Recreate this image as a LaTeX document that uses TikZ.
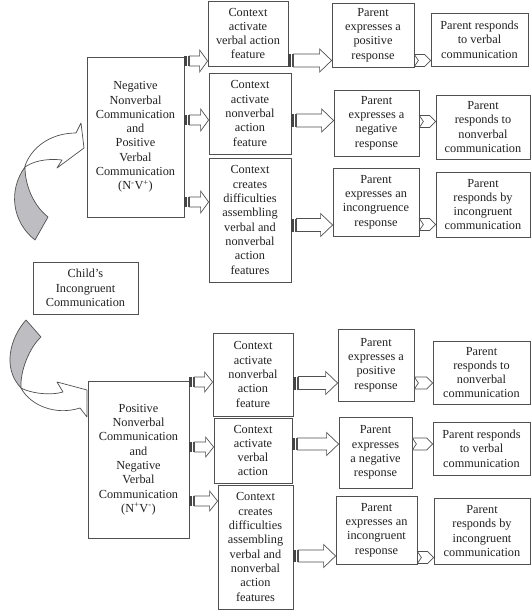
\documentclass[tikz,border=0pt]{standalone}
\usepackage{fontspec}
\setmainfont{Liberation Serif}
\usetikzlibrary{calc}
\definecolor{linec}{HTML}{505050}
\definecolor{textc}{HTML}{222222}
\definecolor{barc}{HTML}{444444}
\definecolor{backc}{HTML}{BEBEC2}
\tikzset{
 box/.style={draw=linec, line width=0.8pt, fill=white, text=textc, align=center, inner sep=0pt, font=\fontsize{12.3}{14.3}\selectfont},
 arrline/.style={draw=linec, line width=0.7pt, line join=miter},
 curvearr/.style={draw=linec, line width=0.7pt, line join=round},
}
\newcommand\bx[6]{\node[box, minimum width={(#4-#2)*1pt}, minimum height={(#5-#3)*1pt}] (#1) at ({(#2+#4)/2},{(#3+#5)/2}) {#6};}
\newcommand\sarr[6]{%
 \path let \p1=(#1.east), \p2=(#2.west) in (\x1,-#3pt) coordinate (as) (\x2,-#3pt) coordinate (ae);
 \draw[arrline,fill=white] ($(as)+(5,-#4)$) -- ($(ae)+(-#6,-#4)$) -- ($(ae)+(-#6,-#5)$) -- (ae) -- ($(ae)+(-#6,#5)$) -- ($(ae)+(-#6,#4)$) -- ($(as)+(5,#4)$) -- cycle;
 \fill[barc] ($(as)+(0,-#4)$) rectangle ($(as)+(2.2,#4)$);
 \draw[arrline] ($(as)+(3.5,-#4)$) -- ($(as)+(3.5,#4)$);
}
\newcommand\chev[3]{%
 \path let \p1=(#1.east), \p2=(#2.west) in (\x1,-#3pt) coordinate (cs) (\x2,-#3pt) coordinate (ce);
 \draw[arrline,fill=white] ($(cs)+(0,-6)$) -- ($(ce)+(-6,-6)$) -- (ce) -- ($(ce)+(-6,6)$) -- ($(cs)+(0,6)$) -- ($(cs)+(4,0)$) -- cycle;
}
\begin{document}
\begin{tikzpicture}[x=1pt,y=-1pt]
\useasboundingbox (0,0) rectangle (531,610);
\fill[white] (0,0) rectangle (531,610);
% upper curved arrow
\filldraw[curvearr,fill=backc] (25,167) .. controls (8,190) and (12,222) .. (35,240) -- (48,217) .. controls (33,205) and (25,185) .. (25,167) -- cycle;
\filldraw[curvearr,fill=white] (25,166) .. controls (31,148) and (50,133) .. (76,133) -- (81,123) -- (84,148) -- (57,168) -- (62,160) .. controls (45,158) and (32,162) .. (25,167) -- cycle;
% lower curved arrow
\filldraw[curvearr,fill=backc] (26,320) .. controls (10,338) and (2,368) .. (21,388) .. controls (20,370) and (30,347) .. (41,337) -- cycle;
\filldraw[curvearr,fill=white] (21,388) .. controls (30,393) and (50,396) .. (63,392) -- (57,382) -- (87,390) -- (87,417) -- (80,408) .. controls (55,416) and (30,405) .. (21,388) -- cycle;
% upper half
\bx{B1}{87}{57}{184}{217}{Negative\\Nonverbal\\Communication\\and\\Positive\\Verbal\\Communication\\(N\textsuperscript{-}V\textsuperscript{+})}
\bx{C1}{208}{1}{288}{66}{Context\\activate\\verbal action\\feature}
\bx{C2}{209}{73}{291}{154}{Context\\activate\\nonverbal\\action\\feature}
\bx{C3}{209}{158}{291}{282}{Context\\creates\\difficulties\\assembling\\verbal and\\nonverbal\\action\\features}
\bx{P1}{332}{3}{414}{67}{Parent\\expresses a\\positive\\response}
\bx{R1}{431}{13}{528}{66}{Parent responds\\to verbal\\communication}
\bx{P2}{334}{90}{419}{156}{Parent\\expresses a\\negative\\response}
\bx{R2}{436}{95}{530}{159}{Parent\\responds to\\nonverbal\\communication}
\bx{P3}{333}{168}{419}{236}{Parent\\expresses an\\incongruence\\response}
\bx{R3}{436}{172}{530}{237}{Parent\\responds by\\incongruent\\communication}
\bx{CH}{33}{262}{138}{314}{Child’s\\Incongruent\\Communication}
% lower half
\bx{B2}{88}{381}{189}{538}{Positive\\Nonverbal\\Communication\\and\\Negative\\Verbal\\Communication\\(N\textsuperscript{+}V\textsuperscript{-})}
\bx{D1}{213}{333}{293}{416}{Context\\activate\\nonverbal\\action\\feature}
\bx{D2}{214}{418}{292}{483}{Context\\activate\\verbal\\action}
\bx{D3}{218}{485}{293}{609}{Context\\creates\\difficulties\\assembling\\verbal and\\nonverbal\\action\\features}
\bx{Q1}{338}{329}{414}{401}{Parent\\expresses a\\positive\\response}
\bx{S1}{433}{341}{530}{404}{Parent\\responds to\\nonverbal\\communication}
\bx{Q2}{339}{417}{412}{488}{Parent\\expresses\\a negative\\response}
\bx{S2}{433}{422}{530}{475}{Parent responds\\to verbal\\communication}
\bx{Q3}{336}{496}{417}{564}{Parent\\expresses an\\incongruent\\response}
\bx{S3}{434}{498}{530}{564}{Parent\\responds by\\incongruent\\communication}
% arrows upper
\sarr{B1}{C1}{61}{5}{11}{8}
\sarr{B1}{C2}{120}{5}{11}{8}
\sarr{B1}{C3}{202}{5}{11}{8}
\sarr{C1}{P1}{60.5}{6.5}{11.5}{12}
\sarr{C2}{P2}{120.5}{6.5}{11.5}{12}
\sarr{C3}{P3}{225}{6.5}{11.5}{12}
\chev{P1}{R1}{60.5}
\chev{P2}{R2}{121.5}
\chev{P3}{R3}{224.5}
% arrows lower
\sarr{B2}{D1}{382}{5}{10}{8}
\sarr{B2}{D2}{447}{5}{10}{8}
\sarr{B2}{D3}{501}{5}{10}{8}
\sarr{D1}{Q1}{383}{6.5}{11.5}{12}
\sarr{D2}{Q2}{444}{6}{11.5}{12}
\sarr{D3}{Q3}{556}{6}{11.5}{12}
\chev{Q1}{S1}{383}
\chev{Q2}{S2}{444}
\chev{Q3}{S3}{557.5}
\end{tikzpicture}
\end{document}
